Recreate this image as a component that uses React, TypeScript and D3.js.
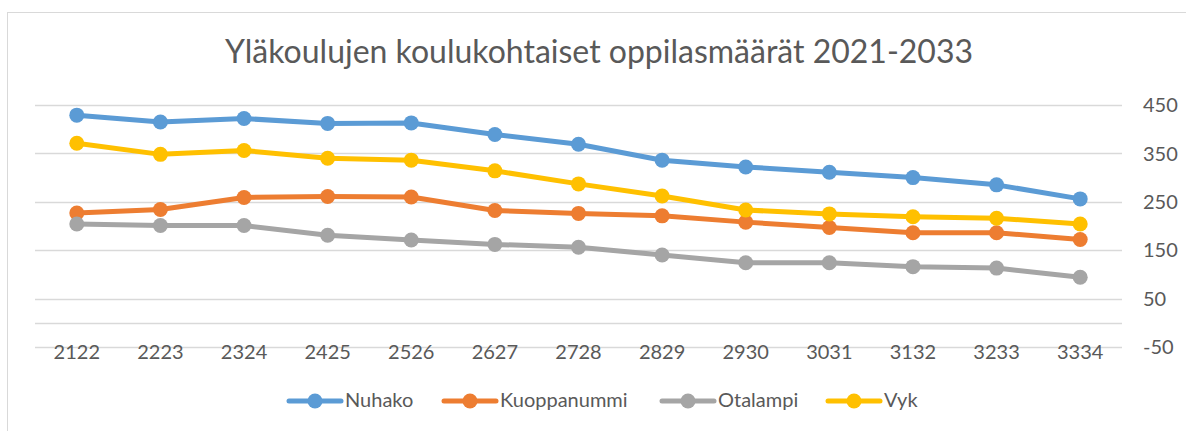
import * as d3 from 'd3';
import React, { useEffect, useRef } from 'react';

const categories = ['2122', '2223', '2324', '2425', '2526', '2627', '2728', '2829', '2930', '3031', '3132', '3233', '3334'];
const nuhako = [429, 415, 422, 412, 413, 389, 369, 336, 322, 311, 300, 285, 256];
const kuoppanummi = [227, 234, 259, 261, 260, 232, 226, 221, 208, 197, 186, 186, 172];
const otalampi = [204, 201, 201, 181, 171, 162, 156, 140, 124, 124, 116, 113, 94];
const vyk = [371, 348, 356, 340, 336, 314, 287, 262, 233, 225, 219, 216, 204];
const yTicks = [-50, 50, 150, 250, 350, 450];
const title = 'Yläkoulujen koulukohtaiset oppilasmäärät 2021-2033';

const series = [
	{ name: 'Nuhako', values: nuhako, color: '#5B9BD5' },
	{ name: 'Kuoppanummi', values: kuoppanummi, color: '#ED7D31' },
	{ name: 'Otalampi', values: otalampi, color: '#A5A5A5' },
	{ name: 'Vyk', values: vyk, color: '#FFC000' },
];

const W = 1186;
const H = 431;
const FONT = 'Lato, "Open Sans", sans-serif';
const TEXT = '#595959';
const GRID = '#D9D9D9';

const App = () => {
	const svgRef = useRef(null);

	useEffect(() => {
		document.body.style.margin = '0';
		const svg = d3.select(svgRef.current);
		svg.selectAll('*').remove();

		// chart frame
		svg.append('rect')
			.attr('x', 7.5).attr('y', 12.5)
			.attr('width', W).attr('height', H)
			.attr('fill', 'white')
			.attr('stroke', GRID);

		svg.append('text')
			.attr('x', 599).attr('y', 63)
			.attr('text-anchor', 'middle')
			.style('font-family', FONT)
			.style('font-size', '32px')
			.style('fill', TEXT)
			.text(title);

		const x = d3.scaleBand().domain(categories).range([35, 1122]);
		const y = d3.scaleLinear().domain([-50, 450]).range([347, 105]);

		// gridlines + zero axis line
		svg.append('g')
			.selectAll('line')
			.data([...yTicks, 0])
			.join('line')
			.attr('x1', 35).attr('x2', 1122)
			.attr('y1', d => Math.round(y(d)) + 0.5)
			.attr('y2', d => Math.round(y(d)) + 0.5)
			.attr('stroke', GRID)
			.attr('stroke-width', 1.5);

		svg.append('g')
			.selectAll('text')
			.data(yTicks)
			.join('text')
			.attr('x', 1143)
			.attr('y', d => y(d))
			.attr('dy', '0.36em')
			.style('font-family', FONT)
			.style('font-size', '20px')
			.style('fill', TEXT)
			.text(d => d);

		svg.append('g')
			.selectAll('text')
			.data(categories)
			.join('text')
			.attr('x', d => x(d) + x.bandwidth() / 2)
			.attr('y', 359)
			.attr('text-anchor', 'middle')
			.style('font-family', FONT)
			.style('font-size', '20px')
			.style('fill', TEXT)
			.text(d => d);

		const cx = (i: number) => x(categories[i]) + x.bandwidth() / 2;
		const line = d3.line<number>().x((d, i) => cx(i)).y(d => y(d));

		series.forEach(s => {
			const g = svg.append('g');
			g.append('path')
				.attr('d', line(s.values))
				.attr('fill', 'none')
				.attr('stroke', s.color)
				.attr('stroke-width', 5)
				.attr('stroke-linejoin', 'round')
				.attr('stroke-linecap', 'round');
			g.selectAll('circle')
				.data(s.values)
				.join('circle')
				.attr('cx', (d, i) => cx(i))
				.attr('cy', d => y(d))
				.attr('r', 7.5)
				.attr('fill', s.color);
		});

		// legend
		const legendX = [289, 444, 662, 828];
		const legend = svg.append('g');
		series.forEach((s, i) => {
			const lx = legendX[i];
			legend.append('line')
				.attr('x1', lx).attr('x2', lx + 52)
				.attr('y1', 401).attr('y2', 401)
				.attr('stroke', s.color)
				.attr('stroke-width', 5)
				.attr('stroke-linecap', 'round');
			legend.append('circle')
				.attr('cx', lx + 26).attr('cy', 401)
				.attr('r', 7.5)
				.attr('fill', s.color);
			legend.append('text')
				.attr('x', lx + 56).attr('y', 407)
				.style('font-family', FONT)
				.style('font-size', '20px')
				.style('fill', TEXT)
				.text(s.name);
		});
	}, []);

	return <svg ref={svgRef} width={W} height={H} style={{ display: 'block' }} />;
};

export default App;
